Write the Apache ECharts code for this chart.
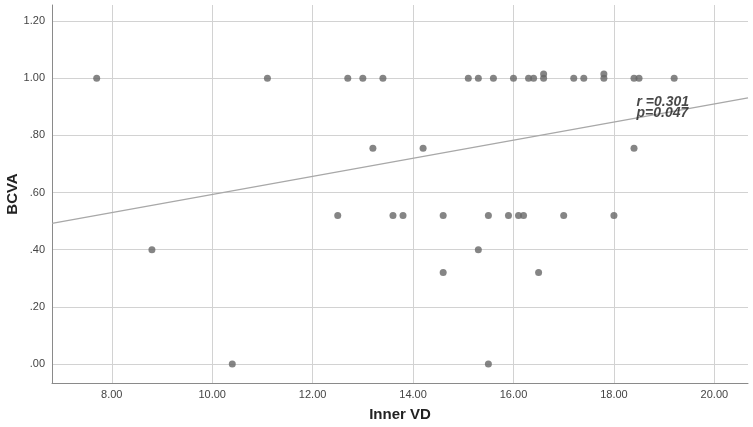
<!DOCTYPE html>
<html>
<head>
<meta charset="utf-8">
<script src="https://cdn.jsdelivr.net/npm/echarts@6/dist/echarts.min.js"></script>
<style>html,body{margin:0;padding:0;background:#fff}#c{width:753px;height:427px}</style>
</head>
<body>
<div id="c"></div>
<script>
// Data (Inner VD vs BCVA)
const innerVD = [7.7, 11.1, 12.7, 13.0, 13.4, 15.1, 15.3, 15.6, 16.0, 16.3, 16.4, 16.6, 16.6, 17.2, 17.4, 17.8, 17.8, 18.4, 18.5, 19.2,
                 13.2, 14.2, 18.4,
                 12.5, 13.6, 13.8, 14.6, 15.5, 15.9, 16.1, 16.2, 17.0, 18.0,
                 8.8, 15.3,
                 14.6, 16.5,
                 10.4, 15.5];
const bcva = [1.0, 1.0, 1.0, 1.0, 1.0, 1.0, 1.0, 1.0, 1.0, 1.0, 1.0, 1.0, 1.015, 1.0, 1.0, 1.0, 1.015, 1.0, 1.0, 1.0,
              0.755, 0.755, 0.755,
              0.52, 0.52, 0.52, 0.52, 0.52, 0.52, 0.52, 0.52, 0.52, 0.52,
              0.40, 0.40,
              0.32, 0.32,
              0.0, 0.0];
const xTicks = [8, 10, 12, 14, 16, 18, 20];
const yTicks = [0, 0.2, 0.4, 0.6, 0.8, 1.0, 1.2];
const fitIntercept = 0.276;
const fitSlope = 0.0317;
const statsText = ['r =0.301', 'p=0.047'];
const statsAnchor = [18.45, 0.896];

const xMin = 6.81, xMax = 20.67, yMin = -0.0665, yMax = 1.2565;

const points = innerVD.map((x, i) => [x, bcva[i]]);
const fitLine = [[xMin, fitIntercept + fitSlope * xMin], [xMax, fitIntercept + fitSlope * xMax]];

function yFmt(v) {
  const s = v.toFixed(2);
  return s.startsWith('0.') ? s.slice(1) : s;
}

const chart = echarts.init(document.getElementById('c'), null, {renderer: 'canvas'});
chart.setOption({
  animation: false,
  backgroundColor: '#fff',
  grid: {left: 52, right: 5, top: 5, bottom: 44, containLabel: false, outerBoundsMode: 'none'},
  xAxis: {
    type: 'value', min: xMin, max: xMax,
    name: 'Inner VD', nameLocation: 'middle', nameGap: 24, nameMoveOverlap: false,
    nameTextStyle: {fontFamily: 'Liberation Sans', fontSize: 15, fontWeight: 'bold', color: '#222'},
    axisLine: {show: true, onZero: false, lineStyle: {color: '#8a8a8a', width: 1}},
    axisTick: {show: false, customValues: xTicks},
    axisLabel: {customValues: xTicks, formatter: v => v.toFixed(2), fontFamily: 'Liberation Sans', fontSize: 11, color: '#444', margin: 6},
    splitLine: {show: true, lineStyle: {color: '#d2d2d2', width: 1}}
  },
  yAxis: {
    type: 'value', min: yMin, max: yMax,
    name: 'BCVA', nameLocation: 'middle', nameGap: 32, nameRotate: 90, nameMoveOverlap: false,
    nameTextStyle: {fontFamily: 'Liberation Sans', fontSize: 15, fontWeight: 'bold', color: '#222'},
    axisLine: {show: true, onZero: false, lineStyle: {color: '#8a8a8a', width: 1}},
    axisTick: {show: false, customValues: yTicks},
    axisLabel: {customValues: yTicks, formatter: yFmt, fontFamily: 'Liberation Sans', fontSize: 11, color: '#444', margin: 7},
    splitLine: {show: true, lineStyle: {color: '#d2d2d2', width: 1}}
  },
  series: [
    {
      type: 'line', data: fitLine, symbol: 'none', silent: true,
      lineStyle: {color: '#a8a8a8', width: 1.3}, z: 2
    },
    {
      type: 'scatter', data: points, symbol: 'circle', symbolSize: 7,
      itemStyle: {color: '#666666'}, z: 3
    },
    {
      type: 'scatter', data: [statsAnchor], symbolSize: 0, silent: true, z: 4,
      label: {
        show: true, position: 'right', distance: 0, align: 'left', verticalAlign: 'middle',
        formatter: statsText.join('\n'), lineHeight: 11,
        fontFamily: 'Liberation Sans', fontSize: 14, fontWeight: 'bold', fontStyle: 'italic', color: '#1a1a1a'
      }
    }
  ]
});
</script>
</body>
</html>
